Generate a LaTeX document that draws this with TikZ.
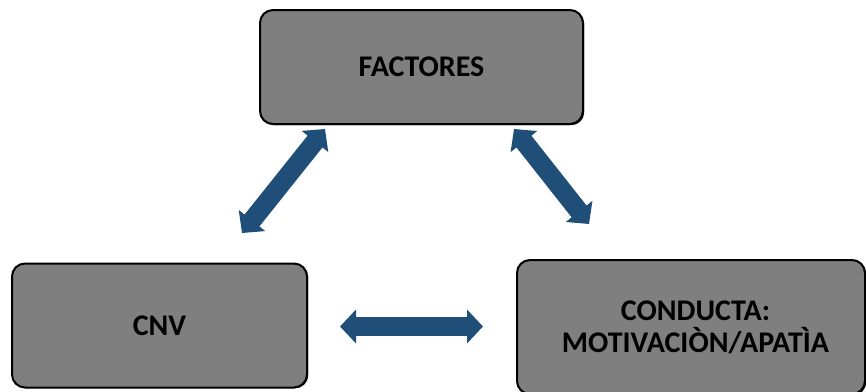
\documentclass[tikz,border=0pt]{standalone}
\usepackage{fontspec}
\setmainfont{Carlito}
\usetikzlibrary{arrows.meta}
\definecolor{boxgray}{HTML}{7F7F7F}
\definecolor{arrowblue}{HTML}{1F4E79}
\tikzset{
  box/.style={draw=black, line width=2pt, fill=boxgray, rounded corners=13pt,
    inner sep=0pt, font=\bfseries\fontsize{30}{33}\selectfont, text=black,
    text height=19.3pt, text depth=0pt, align=center},
  boxshadow/.style={fill=black, rounded corners=13pt, draw=none, inner sep=0pt},
  % multi-line label: its base anchor sits on the last line's baseline
  label text/.style={inner sep=0pt, font=\bfseries\fontsize{30}{32.7}\selectfont,
    text=black, align=center, anchor=base},
  link/.style={arrowblue, line width=19pt,
    {Triangle[width=33pt,length=16pt]}-{Triangle[width=33pt,length=16pt]}},
}
\begin{document}
\begin{tikzpicture}[x=1pt, y=-1pt]
  \clip (0,0) rectangle (866,391);
  \fill[white] (0,0) rectangle (866,391);

  % shadows under the three boxes
  \node[boxshadow, minimum width=323pt, minimum height=114pt] at (422.7,68.2) {};
  \node[boxshadow, minimum width=295pt, minimum height=124pt] at (160.7,326.2) {};
  \node[boxshadow, minimum width=348pt, minimum height=134pt] at (692.2,328.2) {};

  % boxes
  \node[box, minimum width=323pt, minimum height=114pt] (fac) at (421.5,67) {FACTORES};
  \node[box, minimum width=295pt, minimum height=124pt] (cnv) at (159.5,325.5) {CNV};
  \node[box, minimum width=348pt, minimum height=134pt] (con) at (691,327) {};
  \node[label text] (conlabel) at (695.5,352.7) {CONDUCTA:\\MOTIVACIÒN/APATÌA};

  % arrow end points
  \coordinate (a1) at (242,233);
  \coordinate (b1) at (325,129);
  \coordinate (a2) at (514,129);
  \coordinate (b2) at (589,224);
  \coordinate (a3) at (340,326.5);
  \coordinate (b3) at (483,326.5);

  \draw[link] (a1) -- (b1);
  \draw[link] (a2) -- (b2);
  \draw[link] (a3) -- (b3);
\end{tikzpicture}
\end{document}
